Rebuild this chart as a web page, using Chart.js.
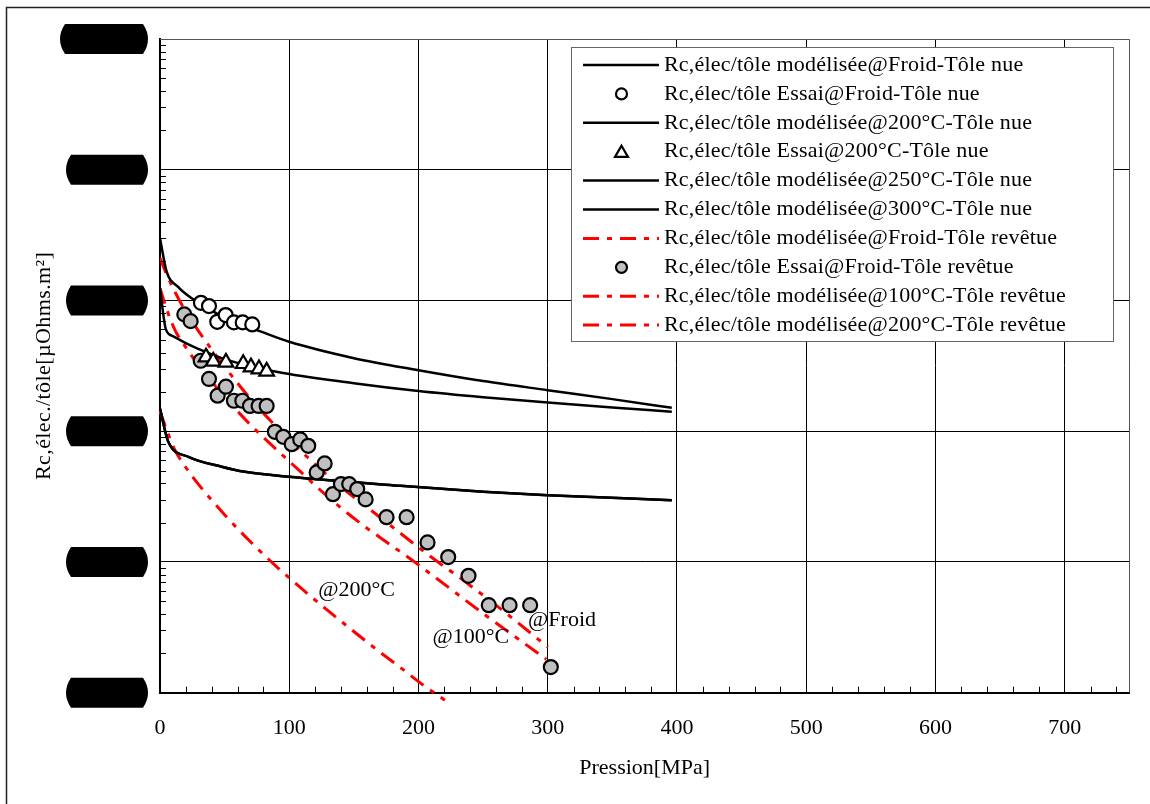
<!DOCTYPE html>
<html><head><meta charset="utf-8">
<script src="https://cdn.jsdelivr.net/npm/chart.js@4.4.0/dist/chart.umd.min.js"></script>
<style>html,body{margin:0;padding:0;background:#fff;}#wrap{width:1150px;height:804px;}</style>
</head><body><div id="wrap"><canvas id="c" width="1150" height="804"></canvas></div>
<script>
// ---------- data (pressure in MPa, resistance in µOhms.m²) ----------
const xTickValues = [0, 100, 200, 300, 400, 500, 600, 700];
const yDecades = [0.01, 0.1, 1, 10, 100, 1000];

const pModFroidNue = [0, 5, 14, 24.5, 30, 50, 75, 100, 150, 200, 250, 300, 350, 396];
const rModFroidNue = [29.9, 16.8, 12.7, 10.4, 9.72, 7.33, 5.94, 4.83, 3.62, 2.93, 2.42, 2.06, 1.76, 1.51];

const pEssaiFroidNue = [31.7, 37.9, 44.3, 50.8, 57.2, 64.0, 71.4];
const rEssaiFroidNue = [9.60, 9.06, 6.87, 7.73, 6.80, 6.80, 6.56];

const pMod200Nue = [0, 4.5, 10, 20, 30, 50, 90, 150, 200, 250, 300, 350, 396];
const rMod200Nue = [12.4, 6.04, 5.34, 4.72, 4.25, 3.56, 2.85, 2.33, 2.03, 1.82, 1.66, 1.52, 1.41];

const pEssai200Nue = [35.6, 41.2, 51.0, 64.4, 70.4, 76.6, 82.5];
const rEssai200Nue = [3.69, 3.42, 3.36, 3.28, 3.09, 2.99, 2.87];

const pMod250Nue = [0, 6.4, 22, 47.7, 65.7, 100, 186, 250, 300, 396];
const rMod250Nue = [1.49, 0.830, 0.637, 0.535, 0.489, 0.448, 0.382, 0.345, 0.324, 0.297];

const pMod300Nue = [0, 6.4, 22, 47.7, 65.7, 100, 186, 250, 300, 396];
const rMod300Nue = [1.49, 0.830, 0.637, 0.535, 0.489, 0.448, 0.382, 0.345, 0.324, 0.297];

const pModFroidRev = [0, 5.4, 11.6, 19.3, 30.9, 50.3, 69.6, 88.9, 108.3, 127.6, 146.9, 166.2, 183, 208.8, 234.5, 262.9, 300.2];
const rModFroidRev = [21.1, 15.6, 11.6, 8.45, 5.63, 3.09, 1.79, 1.11, 0.716, 0.478, 0.330, 0.236, 0.175, 0.111, 0.0726, 0.0443, 0.0223];

const pEssaiFroidRev = [18.8, 23.7, 31.5, 37.9, 44.6, 51.0, 57.2, 63.7, 69.6, 76.3, 82.5, 88.9, 95.4, 101.9, 108.5, 114.7, 121.2, 127.4, 133.8, 140.0, 146.4, 152.6, 159.1, 175.3, 190.8, 207.0, 223.0, 238.7, 254.4, 270.5, 286.4, 302.4];
const rEssaiFroidRev = [7.83, 6.95, 3.46, 2.51, 1.87, 2.19, 1.71, 1.71, 1.56, 1.56, 1.56, 0.99, 0.906, 0.796, 0.865, 0.773, 0.484, 0.567, 0.330, 0.394, 0.394, 0.361, 0.301, 0.220, 0.220, 0.141, 0.109, 0.0783, 0.0467, 0.0467, 0.0467, 0.0157];

const pMod100Rev = [0, 5.4, 11.6, 19.3, 30.9, 50.3, 69.6, 88.9, 108.3, 127.6, 151.9, 198.5, 250, 299];
const rMod100Rev = [12.4, 8.45, 5.94, 4.48, 3.09, 1.82, 1.13, 0.743, 0.495, 0.330, 0.209, 0.0975, 0.0404, 0.0180];

const pMod200Rev = [0, 5.2, 11.6, 19.3, 30.9, 50.3, 69.6, 88.9, 108.3, 127.6, 146.9, 166.2, 185.6, 204.9, 220.4];
const rMod200Rev = [1.43, 1.02, 0.716, 0.541, 0.380, 0.228, 0.144, 0.0946, 0.0641, 0.0443, 0.0311, 0.0219, 0.0157, 0.0112, 0.00877];

const labels = [
  'Rc,élec/tôle modélisée@Froid-Tôle nue',
  'Rc,élec/tôle Essai@Froid-Tôle nue',
  'Rc,élec/tôle modélisée@200°C-Tôle nue',
  'Rc,élec/tôle Essai@200°C-Tôle nue',
  'Rc,élec/tôle modélisée@250°C-Tôle nue',
  'Rc,élec/tôle modélisée@300°C-Tôle nue',
  'Rc,élec/tôle modélisée@Froid-Tôle revêtue',
  'Rc,élec/tôle Essai@Froid-Tôle revêtue',
  'Rc,élec/tôle modélisée@100°C-Tôle revêtue',
  'Rc,élec/tôle modélisée@200°C-Tôle revêtue'
];
const annoTexts = ['@200°C', '@100°C', '@Froid'];

// ---------- styles / helpers ----------
const FONT = '"Liberation Serif", "Times New Roman", Times, serif';
const FS = 22;
const RED = '#ff0000';
const DASH = [16, 8, 5, 8];
const pts = (xs, ys) => xs.map((x, i) => ({x: x, y: ys[i]}));

function lineDS(label, xs, ys, color, dash, extra) {
  return Object.assign({
    label, data: pts(xs, ys), showLine: true, borderColor: color, borderWidth: color === RED ? 3 : 2.5,
    borderDash: dash || [], pointRadius: 0, pointHoverRadius: 0, cubicInterpolationMode: 'monotone',
    fill: false, order: 2, kind: 'line'
  }, extra || {});
}
function markDS(label, xs, ys, style, fillColor, radius) {
  return {
    label, data: pts(xs, ys), showLine: false, pointStyle: style, pointRadius: radius,
    pointHoverRadius: radius, pointBackgroundColor: fillColor, pointBorderColor: '#000',
    pointBorderWidth: 2.2, backgroundColor: fillColor, borderColor: '#000', order: 0, kind: 'mark'
  };
}

const datasets = [
  lineDS(labels[0], pModFroidNue, rModFroidNue, '#000'),
  markDS(labels[1], pEssaiFroidNue, rEssaiFroidNue, 'circle', '#ffffff', 7),
  lineDS(labels[2], pMod200Nue, rMod200Nue, '#000'),
  markDS(labels[3], pEssai200Nue, rEssai200Nue, 'triangle', '#ffffff', 8.5),
  lineDS(labels[4], pMod250Nue, rMod250Nue, '#000'),
  lineDS(labels[5], pMod300Nue, rMod300Nue, '#000'),
  lineDS(labels[6], pModFroidRev, rModFroidRev, RED, DASH),
  markDS(labels[7], pEssaiFroidRev, rEssaiFroidRev, 'circle', '#c0c0c0', 7),
  lineDS(labels[8], pMod100Rev, rMod100Rev, RED, DASH),
  lineDS(labels[9], pMod200Rev, rMod200Rev, RED, DASH, {clip: {left: 2, top: 2, right: 2, bottom: 9}})
];

const annotations = {
  texts: annoTexts,
  at: [{x: 122.4, y: 0.0608}, {x: 210.9, y: 0.0267}, {x: 284.8, y: 0.0359}]
};

function drawPill(ctx, x1, x2, cy, h) {
  const t = cy - h / 2, b = cy + h / 2, bul = 5;
  ctx.beginPath();
  ctx.moveTo(x1 + bul, t);
  ctx.lineTo(x2 - bul, t);
  ctx.quadraticCurveTo(x2 + bul, cy, x2 - bul, b);
  ctx.lineTo(x1 + bul, b);
  ctx.quadraticCurveTo(x1 - bul, cy, x1 + bul, t);
  ctx.closePath();
  ctx.fill();
}
function drawMarker(ctx, style, x, y, r, fill) {
  ctx.save();
  ctx.fillStyle = fill; ctx.strokeStyle = '#000'; ctx.lineWidth = 2.2;
  ctx.beginPath();
  if (style === 'triangle') {
    ctx.moveTo(x, y - r);
    ctx.lineTo(x + Math.sin(2 * Math.PI / 3) * r, y + r / 2);
    ctx.lineTo(x - Math.sin(2 * Math.PI / 3) * r, y + r / 2);
    ctx.closePath();
  } else {
    ctx.arc(x, y, r, 0, Math.PI * 2);
  }
  ctx.fill(); ctx.stroke();
  ctx.restore();
}

const deco = {
  id: 'deco',
  beforeDraw(chart) {
    const c = chart.ctx;
    c.save();
    c.fillStyle = '#fff';
    c.fillRect(0, 0, chart.width, chart.height);
    c.strokeStyle = '#222'; c.lineWidth = 1.5;
    c.beginPath(); c.moveTo(6.5, chart.height + 2); c.lineTo(6.5, 7.5); c.lineTo(chart.width + 2, 7.5); c.stroke();
    c.restore();
  },
  afterDraw(chart) {
    const c = chart.ctx, a = chart.chartArea, xs = chart.scales.x, ys = chart.scales.y;
    c.save();
    // top/right frame of plot
    c.strokeStyle = '#555'; c.lineWidth = 1;
    c.beginPath(); c.moveTo(a.left, Math.round(a.top) + 0.5); c.lineTo(Math.round(a.right) + 0.5, Math.round(a.top) + 0.5);
    c.lineTo(Math.round(a.right) + 0.5, a.bottom); c.stroke();
    // minor ticks y (log)
    c.strokeStyle = '#000'; c.lineWidth = 1;
    c.beginPath();
    for (let k = 0; k < yDecades.length - 1; k++) {
      for (let m = 2; m <= 9; m++) {
        const py = Math.round(ys.getPixelForValue(m * yDecades[k])) + 0.5;
        c.moveTo(a.left, py); c.lineTo(a.left + 6, py);
      }
    }
    // minor ticks x
    for (let v = 20; v < xs.max; v += 20) {
      if (v % 100 === 0) continue;
      const px = Math.round(xs.getPixelForValue(v)) + 0.5;
      c.moveTo(px, a.bottom); c.lineTo(px, a.bottom - 6);
    }
    c.stroke();
    // redacted y tick labels (black pills)
    c.fillStyle = '#000';
    yDecades.forEach((v, i) => {
      const cy = ys.getPixelForValue(v);
      drawPill(c, i === yDecades.length - 1 ? 60 : 66, 148, cy, 30);
    });
    // axis titles
    c.fillStyle = '#000';
    c.font = FS + 'px ' + FONT;
    c.textAlign = 'center'; c.textBaseline = 'middle';
    c.fillText('Pression[MPa]', (a.left + a.right) / 2, 768);
    c.save();
    c.translate(44, (a.top + a.bottom) / 2);
    c.rotate(-Math.PI / 2);
    c.letterSpacing = '0.4px';
    c.fillText('Rc,élec./tôle[µOhms.m²]', 0, 0);
    c.restore();
    // annotations
    c.textAlign = 'left';
    annotations.texts.forEach((t, i) => {
      const p = annotations.at[i];
      c.fillText(t, xs.getPixelForValue(p.x), ys.getPixelForValue(p.y));
    });
    // legend
    const L = {x1: 571, y1: 47, x2: 1113, y2: 341, row0: 65, dy: 28.9};
    c.fillStyle = '#fff';
    c.fillRect(L.x1, L.y1, L.x2 - L.x1, L.y2 - L.y1);
    c.strokeStyle = '#666'; c.lineWidth = 1;
    c.strokeRect(L.x1 + 0.5, L.y1 + 0.5, L.x2 - L.x1, L.y2 - L.y1);
    chart.data.datasets.forEach((ds, i) => {
      const y = L.row0 + i * L.dy;
      if (ds.kind === 'line') {
        c.save();
        c.strokeStyle = ds.borderColor; c.lineWidth = ds.borderWidth;
        c.setLineDash(ds.borderDash || []);
        c.beginPath(); c.moveTo(583, y); c.lineTo(659, y); c.stroke();
        c.restore();
      } else {
        drawMarker(c, ds.pointStyle, 621.5, ds.pointStyle === 'triangle' ? y + 1.5 : y, ds.pointStyle === 'triangle' ? 7.5 : 5.5, ds.pointBackgroundColor);
      }
      c.save();
      c.fillStyle = '#000';
      c.font = FS + 'px ' + FONT;
      c.letterSpacing = '0.2px';
      c.textAlign = 'left'; c.textBaseline = 'middle';
      c.fillText(ds.label, 664, y);
      c.restore();
    });
    c.restore();
  }
};

const isDecade = v => { const l = Math.log10(v); return Math.abs(l - Math.round(l)) < 1e-6; };

new Chart(document.getElementById('c'), {
  type: 'scatter',
  data: {datasets},
  options: {
    responsive: false,
    animation: false,
    events: [],
    layout: {padding: {top: 39, right: 20.7, left: 0, bottom: 0}},
    plugins: {legend: {display: false}, tooltip: {enabled: false}},
    scales: {
      x: {
        type: 'linear', min: 0, max: 750,
        afterFit: s => { s.height = 111.3; },
        afterBuildTicks: s => { s.ticks = xTickValues.map(v => ({value: v})); },
        grid: {color: '#000', lineWidth: 1, drawTicks: false},
        border: {color: '#000', width: 2},
        ticks: {color: '#000', font: {family: FONT, size: FS}, padding: 22, maxRotation: 0, autoSkip: false}
      },
      y: {
        type: 'logarithmic', min: 0.01, max: 1000,
        afterFit: s => { s.width = 160; },
        grid: {color: ctx => (ctx.tick && isDecade(ctx.tick.value)) ? '#000' : 'rgba(0,0,0,0)', lineWidth: 1, drawTicks: false},
        border: {color: '#000', width: 2},
        ticks: {display: false}
      }
    }
  },
  plugins: [deco]
});
</script></body></html>
